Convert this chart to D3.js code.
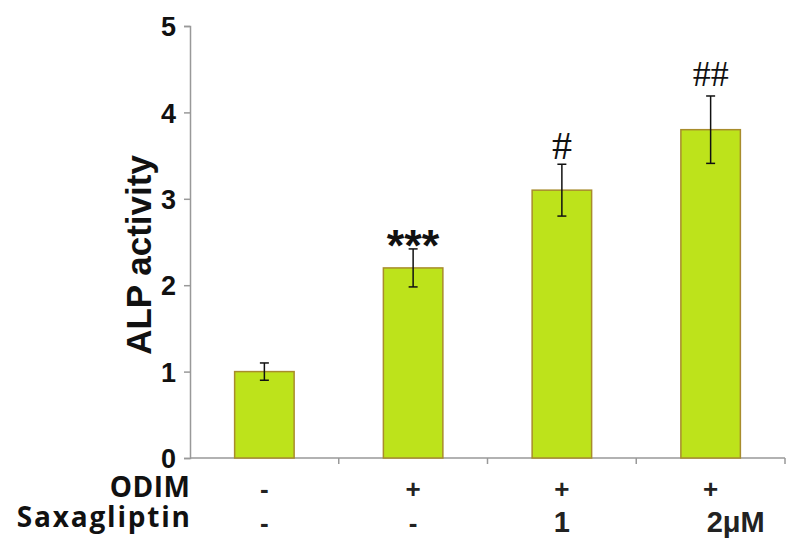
<!DOCTYPE html>
<html>
<head>
<meta charset="utf-8">
<script src="https://cdn.jsdelivr.net/npm/d3@7"></script>
<style>
  body { margin:0; background:#fff; }
  .axis path, .axis line { stroke:#999; stroke-width:1.5; }
</style>
</head>
<body>
<div class="canvas"></div>
<script>
/* ALP activity bar chart */

var groups = ["ctrl","odim","sax1","sax2"];
var means = [1.0, 2.2, 3.1, 3.8];
var errs = [0.1, 0.22, 0.3, 0.39];
var marks = ["", "***", "#", "##"];
var odimRow = ["-","+","+","+"];
var saxRow = ["-","-","1","2μM"];
var yTicks = [0,1,2,3,4,5];

var W = 800, H = 550;
var x0 = 190, x1 = 785, yTop = 26, yBot = 458;

var svg = d3.select('.canvas')
    .append('svg')
    .attr('width',W)
    .attr('height',H);

var x = d3.scaleBand()
    .domain(groups)
    .range([x0,x1])
    .paddingInner(0.6)
    .paddingOuter(0.3);

var y = d3.scaleLinear()
    .domain([0,5])
    .range([yBot,yTop]);

// y axis
var yAxis = svg.append('g')
    .attr('class','axis')
    .attr('transform','translate('+x0+',0)')
    .call(d3.axisLeft(y).tickValues(yTicks).tickSize(6).tickFormat(d3.format('d')));
yAxis.selectAll('text')
    .attr('x',-14)
    .attr('dy','0.36em')
    .style('font-family','"Liberation Sans", Arial, sans-serif')
    .style('font-weight','bold')
    .style('font-size','27px')
    .style('fill','#111');

// x axis: line with ticks between groups
svg.append('line')
    .attr('x1',x0).attr('x2',x1)
    .attr('y1',yBot).attr('y2',yBot)
    .style('stroke','#999').style('stroke-width',1.5);
var bounds = d3.range(1,groups.length+1).map(function(i){ return x0 + (x1-x0)*i/groups.length; });
svg.selectAll('.xtick')
    .data(bounds)
    .enter()
    .append('line')
    .attr('class','xtick')
    .attr('x1',function(d){return d}).attr('x2',function(d){return d})
    .attr('y1',yBot).attr('y2',yBot+6)
    .style('stroke','#999').style('stroke-width',1.5);

// bars
svg.selectAll('.bar')
    .data(groups)
    .enter()
    .append('rect')
    .attr('class','bar')
    .attr('x',function(d){return x(d)})
    .attr('y',function(d,i){return y(means[i])})
    .attr('width',x.bandwidth())
    .attr('height',function(d,i){return yBot - y(means[i])})
    .style('fill','#bde31b')
    .style('stroke','#a88c2c')
    .style('stroke-width',1.5);

// error bars
var eb = svg.selectAll('.err')
    .data(groups)
    .enter()
    .append('g')
    .attr('class','err')
    .style('stroke','#111')
    .style('stroke-width',1.5);
eb.append('line')
    .attr('x1',function(d){return x(d)+x.bandwidth()/2})
    .attr('x2',function(d){return x(d)+x.bandwidth()/2})
    .attr('y1',function(d,i){return y(means[i]+errs[i])})
    .attr('y2',function(d,i){return y(means[i]-errs[i])});
[1,-1].forEach(function(s){
    eb.append('line')
        .attr('x1',function(d){return x(d)+x.bandwidth()/2-4.5})
        .attr('x2',function(d){return x(d)+x.bandwidth()/2+4.5})
        .attr('y1',function(d,i){return y(means[i]+s*errs[i])})
        .attr('y2',function(d,i){return y(means[i]+s*errs[i])});
});

// significance marks
svg.selectAll('.mark')
    .data(groups)
    .enter()
    .append('text')
    .attr('class','mark')
    .attr('x',function(d){return x(d)+x.bandwidth()/2})
    .attr('y',function(d,i){
        var top = y(means[i]+errs[i]);
        return marks[i]=="***" ? top+12 : (marks[i]=="#" ? top-5 : top-10);
    })
    .attr('text-anchor','middle')
    .style('font-family',function(d,i){return marks[i]=="***" ? '"Liberation Sans", Arial, sans-serif' : '"Liberation Serif", "Times New Roman", serif'})
    .style('font-weight',function(d,i){return marks[i]=="***" ? 'bold' : 'normal'})
    .style('font-size',function(d,i){return marks[i]=="***" ? '45px' : (marks[i]=="#" ? '40px' : '36px')})
    .style('fill','#111')
    .text(function(d,i){return marks[i]});

// y label
svg.append('text')
    .attr('transform','translate(151,255) rotate(-90)')
    .attr('text-anchor','middle')
    .style('font-family','"Liberation Sans", Arial, sans-serif')
    .style('font-weight','bold')
    .style('font-size','35px')
    .style('fill','#111')
    .text('ALP activity');

// treatment rows
var rows = [{name:'ODIM', vals:odimRow, yb:497, ys:498, ls:0.5}, {name:'Saxagliptin', vals:saxRow, yb:527, ys:532, ls:1.8}];
rows.forEach(function(r){
    svg.append('text')
        .attr('x',190 + r.ls).attr('y',r.yb)
        .attr('text-anchor','end')
        .style('font-family','"Open Sans", sans-serif')
        .style('font-weight','bold')
        .style('font-size','28px')
        .style('letter-spacing',r.ls+'px')
        .style('fill','#111')
        .text(r.name);
    svg.selectAll(null)
        .data(r.vals)
        .enter()
        .append('text')
        .attr('x',function(d,i){
            var c = x(groups[i])+x.bandwidth()/2;
            return d.length>1 ? c-4 : c;
        })
        .attr('y',r.ys)
        .attr('text-anchor',function(d){return d.length>1 ? 'start' : 'middle'})
        .style('font-family','"Liberation Sans", Arial, sans-serif')
        .style('font-weight','bold')
        .style('font-size',function(d){return (d=="+"||d=="-") ? '26px' : '29px'})
        .style('fill','#222')
        .text(function(d){return d});
});
</script>
</body>
</html>
